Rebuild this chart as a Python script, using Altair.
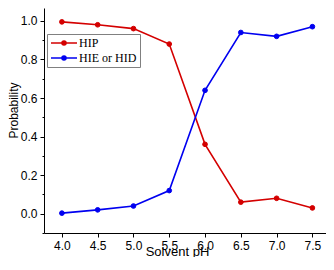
import altair as alt
import pandas as pd

# ---- data ----
ph = [4.0, 4.5, 5.0, 5.5, 6.0, 6.5, 7.0, 7.5]
hip = [0.995, 0.98, 0.96, 0.88, 0.36, 0.06, 0.08, 0.03]
hie_hid = [0.003, 0.02, 0.04, 0.12, 0.64, 0.94, 0.92, 0.97]
series_names = ["HIP", "HIE or HID"]
series_colors = ["#d40000", "#0000f0"]

# tick positions (x: major + minor; y: major, and minor separately)
x_ticks = [4.0, 4.25, 4.5, 4.75, 5.0, 5.25, 5.5, 5.75, 6.0, 6.25, 6.5,
           6.75, 7.0, 7.25, 7.5]
y_ticks = [0.0, 0.2, 0.4, 0.6, 0.8, 1.0]
y_minor = [-0.1, 0.1, 0.3, 0.5, 0.7, 0.9]

df = pd.DataFrame({
    "pH": ph + ph,
    "p": hip + hie_hid,
    "series": [series_names[0]] * len(ph) + [series_names[1]] * len(ph),
})

xs = alt.Scale(domain=[3.75, 7.69], nice=False, zero=False)
ys = alt.Scale(domain=[-0.1, 1.067], nice=False, zero=False)
cs = alt.Scale(domain=series_names, range=series_colors)

sans = "Liberation Sans"
serif = "Liberation Serif"

x_major_test = "datum.value % 0.5 == 0"

x_axis = alt.Axis(
    values=x_ticks, orient="bottom", grid=False,
    labelExpr="datum.value % 0.5 == 0 ? format(datum.value, '.1f') : ''",
    tickSize={"condition": {"test": x_major_test, "value": 4}, "value": 2},
    labelPadding=3, labelFont=sans, labelFontSize=12,
    labelColor="black", domainColor="black", tickColor="black",
    labelFlush=False, labelOverlap=False,
    title="Solvent pH", titleFont=sans, titleFontSize=13,
    titleFontWeight="normal", titleColor="black",
    titleX=133, titleY=22, titleAlign="center", titleBaseline="alphabetic")

y_axis = alt.Axis(
    values=y_ticks, format=".1f", orient="left", grid=False,
    tickSize=4, labelPadding=3, labelFont=sans, labelFontSize=12,
    labelColor="black", domainColor="black", tickColor="black",
    labelFlush=False, labelOverlap=False,
    title="Probability", titleFont=sans, titleFontSize=12,
    titleFontWeight="normal", titleColor="black",
    titleY=102, titlePadding=0)

y_minor_axis = alt.Axis(
    values=y_minor, orient="left", grid=False, labels=False, domain=False,
    tickSize=2, tickColor="black", title=None)

# legend symbol: a 26px line with a dot (concentric circles stroked to look filled)
sym = ("M-2.6,0L2.6,0"
       "M0.4,0A0.4,0.4,0,1,1,-0.4,0A0.4,0.4,0,1,1,0.4,0"
       "M0.2,0A0.2,0.2,0,1,1,-0.2,0A0.2,0.2,0,1,1,0.2,0")
leg = alt.Legend(orient="none", legendX=3, legendY=26, title=None,
                 fillColor="white", strokeColor="#808080", padding=3,
                 labelFont=serif, labelFontSize=12, labelColor="black",
                 symbolType=sym, symbolSize=100, symbolOffset=8,
                 labelOffset=9, symbolStrokeWidth=1.6, rowPadding=3)

lines = alt.Chart(df).mark_line(strokeWidth=1.6).encode(
    x=alt.X("pH:Q", scale=xs, axis=x_axis),
    y=alt.Y("p:Q", scale=ys, axis=y_axis),
    stroke=alt.Stroke("series:N", scale=cs, legend=leg),
)

minor = alt.Chart(df).mark_point(opacity=0).encode(
    x=alt.X("pH:Q", scale=xs),
    y=alt.Y("p:Q", scale=ys, axis=y_minor_axis),
)

points = alt.Chart(df).mark_point(filled=True, size=22, opacity=1, strokeWidth=1).encode(
    x=alt.X("pH:Q", scale=xs),
    y=alt.Y("p:Q", scale=ys, axis=None),
    fill=alt.Fill("series:N", scale=cs, legend=None),
    stroke=alt.Stroke("series:N", scale=cs),
)

chart = alt.layer(lines, points, minor).resolve_axis(y="independent").properties(
    width=282, height=225,
    autosize=alt.AutoSizeParams(type="none"),
    padding={"left": 36, "top": 0, "right": 0, "bottom": 24},
    background="white",
).configure_view(stroke=None)

chart.save("out.html", embed_options={"renderer": "svg", "actions": False})
